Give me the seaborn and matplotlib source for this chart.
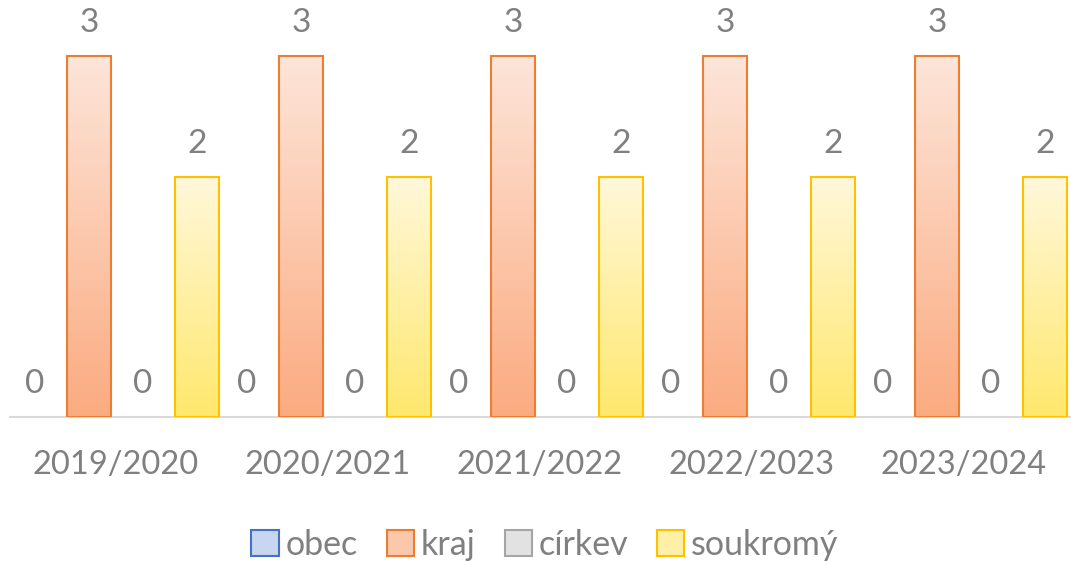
import numpy as np
import pandas as pd
import seaborn as sns
import matplotlib.pyplot as plt
from matplotlib.colors import LinearSegmentedColormap
from matplotlib.patches import Patch

# chart data
years = ["2019/2020", "2020/2021", "2021/2022", "2022/2023", "2023/2024"]
series = ["obec", "kraj", "církev", "soukromý"]
obec = [0, 0, 0, 0, 0]
kraj = [3, 3, 3, 3, 3]
cirkev = [0, 0, 0, 0, 0]
soukromy = [2, 2, 2, 2, 2]

df = pd.DataFrame({"rok": years, "obec": obec, "kraj": kraj,
                   "církev": cirkev, "soukromý": soukromy})
df = df.melt(id_vars="rok", var_name="zřizovatel", value_name="počet")

edge_cols = {"obec": "#4472c4", "kraj": "#ed7d31", "církev": "#a5a5a5", "soukromý": "#ffc000"}
grad = {"obec": ("#dbe4f6", "#b4c7ec"), "kraj": ("#fde5d9", "#fbab80"),
        "církev": ("#efefef", "#d6d6d6"), "soukromý": ("#fff8da", "#ffe86e")}
legend_fill = {"obec": "#c9d6f1", "kraj": "#fcc8ac", "církev": "#e2e2e2", "soukromý": "#fff0a8"}
text_col = "#808080"

sns.set_theme(style="white")
plt.rcParams['font.family'] = ['Lato', 'DejaVu Sans']

fig = plt.figure(figsize=(10.71, 5.61), dpi=100)
ax = fig.add_axes([10 / 1071, 144 / 561, 1060 / 1071, 417 / 561])

sns.barplot(data=df, x="rok", y="počet", hue="zřizovatel", hue_order=series,
            order=years, width=1.02, gap=0.19, palette=edge_cols, ax=ax,
            legend=False, errorbar=None)

ymax = 3.47
for bars, name in zip(ax.containers, series):
    cmap = LinearSegmentedColormap.from_list(name, [grad[name][1], grad[name][0]])
    for p in bars:
        h = p.get_height()
        x0, w = p.get_x(), p.get_width()
        if h > 0:
            img = np.linspace(0, 1, 100).reshape(-1, 1)
            im = ax.imshow(img, extent=[x0, x0 + w, 0, h], origin="lower",
                           aspect="auto", cmap=cmap, zorder=2)
            im.set_clip_path(p)
            p.set_facecolor("none")
            p.set_edgecolor(edge_cols[name])
            p.set_linewidth(1.5)
            p.set_zorder(3)
        else:
            p.set_facecolor("none")
            p.set_edgecolor("none")
    ax.bar_label(bars, labels=[f"{int(v)}" for v in bars.datavalues],
                 padding=13, fontsize=24, color=text_col)

ax.set_xlim(-0.5, 4.5)
ax.set_ylim(0, ymax)
ax.set_xlabel("")
ax.set_ylabel("")
ax.set_yticks([])
sns.despine(ax=ax, left=True, top=True, right=True)
ax.spines["bottom"].set_color("#d9d9d9")
ax.spines["bottom"].set_linewidth(1.5)
ax.tick_params(axis="x", length=0, pad=24, labelsize=23.5, labelcolor=text_col)

handles = [Patch(facecolor=legend_fill[s], edgecolor=edge_cols[s], linewidth=1.5, label=s)
           for s in series]
leg = fig.legend(handles=handles, loc="center", bbox_to_anchor=(545 / 1071, 1 - 545 / 561),
                 ncol=4, frameon=False, fontsize=24.5, handlelength=0.8, handleheight=0.8,
                 handletextpad=0.2, columnspacing=0.85, labelcolor=text_col)

fig.savefig("out.png", dpi=100)
